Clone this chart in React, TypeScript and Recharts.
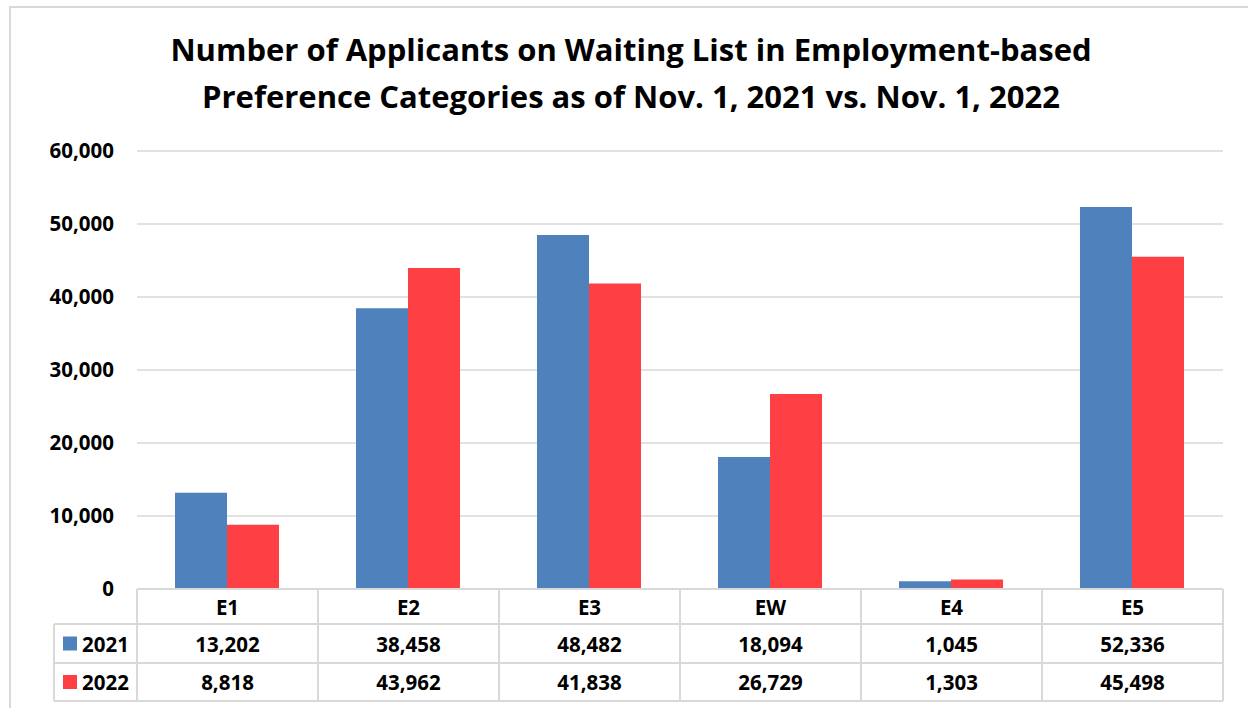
import React from 'react';
import { BarChart, Bar, XAxis, YAxis, CartesianGrid } from 'recharts';

// ─── Data ───────────────────────────────────────────────────────────

const categories = ['E1', 'E2', 'E3', 'EW', 'E4', 'E5'];
const values2021 = [13202, 38458, 48482, 18094, 1045, 52336];
const values2022 = [8818, 43962, 41838, 26729, 1303, 45498];
const seriesNames = ['2021', '2022'];
const yTicks = [0, 10000, 20000, 30000, 40000, 50000, 60000];

const titleLines = [
  'Number of Applicants on Waiting List in Employment-based',
  'Preference Categories as of Nov. 1, 2021 vs. Nov. 1, 2022',
];

const data = categories.map((name, i) => ({
  name,
  y2021: values2021[i],
  y2022: values2022[i],
}));

// ─── Layout / style ─────────────────────────────────────────────────

const W = 1248;
const H = 708;
const FONT = '"Open Sans", Lato, sans-serif';
const BLUE = '#4F81BD';
const RED = '#FE3F44';
const LINE = '#d9d9d9';
const LABEL_SIZE = 20.5;

const MARGIN = { top: 151, right: 25, bottom: 0, left: 0 };
const Y_W = 137;
const X_H = H - 589;
const BAND = (W - Y_W - MARGIN.right) / categories.length;

// table row edges, relative to axis top
const ROWS = [0, 35, 74, 112];
const LEGEND_W = 83;

const fmt = (v: number) => v.toLocaleString('en-US');

const TableTick = (props: any) => {
  const { x, y, payload, index } = props;
  const left = x - BAND / 2;
  const right = x + BAND / 2;
  const rowVals = [values2021[index], values2022[index]];
  const txt = { fontFamily: FONT, fontWeight: 700, fontSize: LABEL_SIZE, fill: '#000' } as const;

  return (
    <g>
      {ROWS.map((r) => (
        <line key={r} x1={left} x2={right} y1={y + r} y2={y + r} stroke={LINE} strokeWidth={2} />
      ))}
      <line x1={left} x2={left} y1={y} y2={y + ROWS[3]} stroke={LINE} strokeWidth={2} />
      <line x1={right} x2={right} y1={y} y2={y + ROWS[3]} stroke={LINE} strokeWidth={2} />
      <text x={x} y={y + (ROWS[0] + ROWS[1]) / 2} textAnchor="middle" dominantBaseline="central" {...txt}>
        {payload.value}
      </text>
      {rowVals.map((v, i) => (
        <text
          key={i}
          x={x}
          y={y + (ROWS[i + 1] + ROWS[i + 2]) / 2}
          textAnchor="middle"
          dominantBaseline="central"
          {...txt}
        >
          {fmt(v)}
        </text>
      ))}
      {index === 0 && (
        <g>
          {/* legend cell on the left of the table */}
          {ROWS.slice(1).map((r) => (
            <line key={r} x1={left - LEGEND_W} x2={left} y1={y + r} y2={y + r} stroke={LINE} strokeWidth={2} />
          ))}
          <line
            x1={left - LEGEND_W}
            x2={left - LEGEND_W}
            y1={y + ROWS[1]}
            y2={y + ROWS[3]}
            stroke={LINE}
            strokeWidth={2}
          />
          {seriesNames.map((s, i) => {
            const cy = y + (ROWS[i + 1] + ROWS[i + 2]) / 2;
            return (
              <g key={s}>
                <rect x={left - 74} y={cy - 7} width={14} height={14} fill={i === 0 ? BLUE : RED} />
                <text x={left - 55} y={cy} dominantBaseline="central" {...txt}>
                  {s}
                </text>
              </g>
            );
          })}
        </g>
      )}
    </g>
  );
};

export default function App() {
  return (
    <div style={{ position: 'absolute', left: 0, top: 0, width: W, height: H, background: '#fff', overflow: 'hidden' }}>
      <div
        style={{
          position: 'absolute',
          left: 9,
          top: 6,
          width: W + 20,
          height: H + 20,
          border: `2px solid ${LINE}`,
          boxSizing: 'border-box',
        }}
      />
      <div
        style={{
          position: 'absolute',
          left: 0,
          top: 26,
          width: 1262,
          textAlign: 'center',
          fontFamily: FONT,
          fontWeight: 700,
          fontSize: 31,
          lineHeight: '47px',
          color: '#000',
        }}
      >
        {titleLines.map((t) => (
          <div key={t}>{t}</div>
        ))}
      </div>
      <div style={{ position: 'absolute', left: 0, top: 0 }}>
        <BarChart width={W} height={H} data={data} margin={MARGIN} barCategoryGap="21%" barGap={0}>
          <CartesianGrid vertical={false} stroke={LINE} strokeWidth={1.5} />
          <XAxis
            dataKey="name"
            height={X_H}
            axisLine={false}
            tickLine={false}
            tickSize={0}
            tickMargin={0}
            interval={0}
            tick={<TableTick />}
          />
          <YAxis
            width={Y_W}
            domain={[0, 60000]}
            ticks={yTicks}
            axisLine={false}
            tickLine={false}
            tickSize={0}
            tickMargin={23}
            tickFormatter={fmt}
            tick={{ fontFamily: FONT, fontWeight: 700, fontSize: LABEL_SIZE, fill: '#000' }}
          />
          <Bar dataKey="y2021" name="2021" fill={BLUE} isAnimationActive={false} />
          <Bar dataKey="y2022" name="2022" fill={RED} isAnimationActive={false} />
        </BarChart>
      </div>
    </div>
  );
}
